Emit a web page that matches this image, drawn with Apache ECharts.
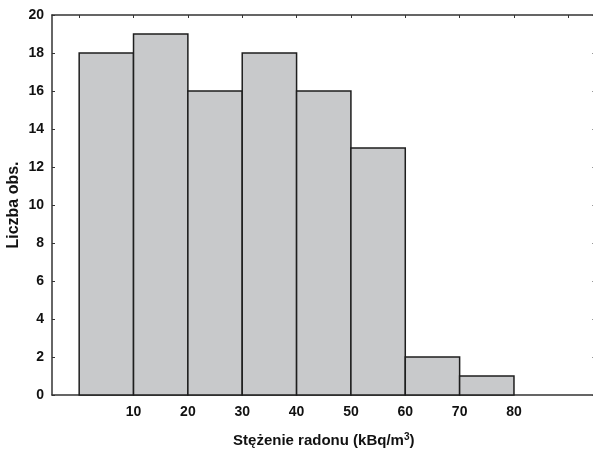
<!DOCTYPE html>
<html>
<head>
<meta charset="utf-8">
<script src="https://cdn.jsdelivr.net/npm/echarts@6/dist/echarts.min.js"></script>
<style>
  html, body { margin: 0; padding: 0; background: #fff; }
  #chart { width: 593px; height: 453px; }
</style>
</head>
<body>
<div id="chart"></div>
<script>
// Histogram classes (kBq/m3) and number of observations in each
const binStart = [0, 10, 20, 30, 40, 50, 60, 70];
const binEnd   = [10, 20, 30, 40, 50, 60, 70, 80];
const counts   = [18, 19, 16, 18, 16, 13, 2, 1];

const xTickLabels = [10, 20, 30, 40, 50, 60, 70, 80];
const xFrameTicks = [0, 10, 20, 30, 40, 50, 60, 70, 80, 90];

const chart = echarts.init(document.getElementById('chart'), null, { renderer: 'canvas' });

const font = 'Liberation Sans, Arial, sans-serif';
const axisColor = '#333';

const histData = binStart.map((s, i) => [s, binEnd[i], counts[i]]);

chart.setOption({
  animation: false,
  backgroundColor: '#fff',
  grid: { left: 52, top: 15, width: 543.5, height: 380, containLabel: false, outerBoundsMode: 'none' },
  xAxis: [
    {
      type: 'value', position: 'bottom', min: -5, max: 95,
      axisLine: { show: true, onZero: false, lineStyle: { color: axisColor, width: 1.5 } },
      axisTick: { show: false },
      splitLine: { show: false },
      axisLabel: {
        customValues: xTickLabels, margin: 10,
        fontFamily: font, fontWeight: 'bold', fontSize: 14, color: '#111'
      },
      name: '{t|Stężenie radonu (kBq/m}{s|3}{t|)}',
      nameLocation: 'middle', nameGap: 37,
      nameTextStyle: {
        rich: {
          t: { fontFamily: font, fontWeight: 'bold', fontSize: 15, color: '#111' },
          s: { fontFamily: font, fontWeight: 'bold', fontSize: 10, color: '#111', verticalAlign: 'top', padding: [0, 0, 8, 0] }
        }
      }
    },
    {
      type: 'value', position: 'top', min: -5, max: 95,
      axisLine: { show: true, onZero: false, lineStyle: { color: axisColor, width: 1.5 } },
      axisTick: { show: true, inside: true, length: 3, customValues: xFrameTicks, lineStyle: { color: axisColor } },
      axisLabel: { show: false },
      splitLine: { show: false }
    }
  ],
  yAxis: [
    {
      type: 'value', position: 'left', min: 0, max: 20, interval: 2,
      axisLine: { show: true, onZero: false, lineStyle: { color: axisColor, width: 1.5 } },
      axisTick: { show: true, inside: true, length: 3, lineStyle: { color: axisColor } },
      splitLine: { show: false },
      axisLabel: { margin: 8, fontFamily: font, fontWeight: 'bold', fontSize: 14, color: '#111' },
      name: 'Liczba obs.', nameLocation: 'middle', nameGap: 30, nameRotate: 90,
      nameMoveOverlap: false,
      nameTextStyle: { fontFamily: font, fontWeight: 'bold', fontSize: 16, color: '#111' }
    },
    {
      type: 'value', position: 'right', min: 0, max: 20, interval: 2,
      axisLine: { show: true, onZero: false, lineStyle: { color: axisColor, width: 1.5 } },
      axisTick: { show: true, inside: true, length: 3, lineStyle: { color: axisColor } },
      axisLabel: { show: false },
      splitLine: { show: false }
    }
  ],
  series: [
    {
      type: 'custom',
      xAxisIndex: 0, yAxisIndex: 0,
      data: histData,
      encode: { x: [0, 1], y: 2 },
      renderItem: function (params, api) {
        const p0 = api.coord([api.value(0), api.value(2)]);
        const p1 = api.coord([api.value(1), 0]);
        return {
          type: 'rect',
          shape: { x: p0[0], y: p0[1], width: p1[0] - p0[0], height: p1[1] - p0[1] },
          style: { fill: '#c8c9cb', stroke: '#1e1e1e', lineWidth: 1.5 }
        };
      }
    }
  ]
});
</script>
</body>
</html>
